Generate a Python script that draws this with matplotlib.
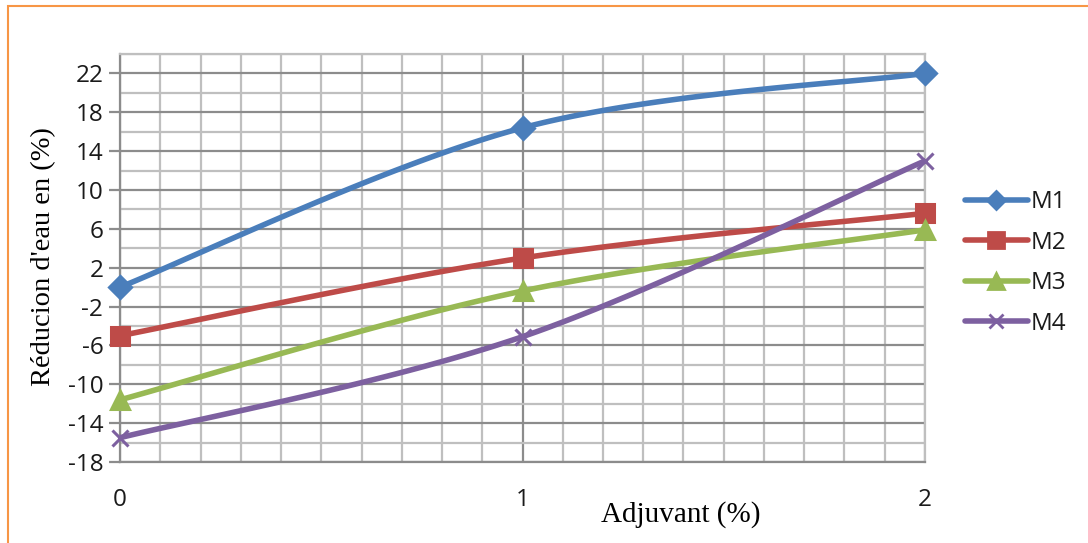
import numpy as np
import matplotlib.pyplot as plt
from matplotlib.patches import Rectangle
from matplotlib.ticker import MultipleLocator, FixedLocator

# dosage d'adjuvant (%) et reduction d'eau (%) pour chaque melange
adjuvant = [0, 1, 2]
m1 = [0.0, 16.4, 22.0]
m2 = [-5.0, 3.0, 7.6]
m3 = [-11.6, -0.4, 5.9]
m4 = [-15.5, -5.1, 13.0]

series = [('M1', m1, '#4A7EBB', 'D', 11),
          ('M2', m2, '#BE4B48', 's', 13),
          ('M3', m3, '#98B954', '^', 13),
          ('M4', m4, '#7D60A0', 'x', 12)]


def smooth(x, y, n=60):
    # catmull-rom style curve through the points (like excel "smoothed line")
    x = np.asarray(x, float)
    y = np.asarray(y, float)
    px = np.concatenate([[x[0]], x, [x[-1]]])
    py = np.concatenate([[y[0]], y, [y[-1]]])
    xs, ys = [], []
    t = np.linspace(0, 1, n)
    for i in range(1, len(px) - 2):
        p0x, p1x, p2x, p3x = px[i - 1], px[i], px[i + 1], px[i + 2]
        p0y, p1y, p2y, p3y = py[i - 1], py[i], py[i + 1], py[i + 2]
        c1x = p1x + (p2x - p0x) / 6
        c1y = p1y + (p2y - p0y) / 6
        c2x = p2x - (p3x - p1x) / 6
        c2y = p2y - (p3y - p1y) / 6
        bx = (1 - t) ** 3 * p1x + 3 * (1 - t) ** 2 * t * c1x + 3 * (1 - t) * t ** 2 * c2x + t ** 3 * p2x
        by = (1 - t) ** 3 * p1y + 3 * (1 - t) ** 2 * t * c1y + 3 * (1 - t) * t ** 2 * c2y + t ** 3 * p2y
        xs.extend(bx)
        ys.extend(by)
    return xs, ys


fig = plt.figure(figsize=(10.88, 5.43), dpi=100)
ax = fig.add_axes([120 / 1088, 1 - 462 / 543, 805 / 1088, 408 / 543])

for name, vals, col, mk, ms in series:
    sx, sy = smooth(adjuvant, vals)
    ax.plot(sx, sy, color=col, lw=4, solid_capstyle='round', zorder=3)
    ax.plot(adjuvant, vals, linestyle='none', marker=mk, color=col, ms=ms,
            mew=2.2, zorder=4, clip_on=False)
    # legend handle only
    ax.plot([], [], color=col, lw=4, marker=mk, ms=ms * 0.85, mew=2, label=name,
            solid_capstyle='round')

ax.set_xlim(0, 2)
ax.set_ylim(-18, 24)
ax.xaxis.set_major_locator(FixedLocator([0, 1, 2]))
ax.xaxis.set_minor_locator(MultipleLocator(0.1))
ax.yaxis.set_major_locator(FixedLocator(np.arange(-18, 23, 4)))
ax.yaxis.set_minor_locator(MultipleLocator(2))

ax.grid(which='minor', color='#BFBFBF', lw=1.6)
ax.grid(which='major', color='#8C8C8C', lw=1.6)
ax.set_axisbelow(True)

for side in ['top', 'right']:
    ax.spines[side].set_color('#BFBFBF')
    ax.spines[side].set_linewidth(1.6)
for side in ['left', 'bottom']:
    ax.spines[side].set_color('#8C8C8C')
    ax.spines[side].set_linewidth(1.6)

ax.tick_params(axis='y', which='major', length=8, width=1.6, color='#8C8C8C',
               labelsize=17.5, pad=4)
ax.tick_params(axis='x', which='major', length=0, labelsize=17.5, pad=19)
ax.tick_params(which='minor', length=0)

ax.set_yticklabels([str(v) for v in range(-18, 23, 4)])
for lab in ax.get_xticklabels() + ax.get_yticklabels():
    lab.set_fontfamily('Open Sans')
    lab.set_color('#1a1a1a')

fig.text(44 / 1088, 1 - 257 / 543, "Réducion d'eau en (%)", rotation=90,
         ha='center', va='center', family='Liberation Serif', fontsize=20.5)
fig.text(681 / 1088, 1 - 515 / 543, 'Adjuvant (%)', ha='center', va='center',
         family='Liberation Serif', fontsize=21)

leg = fig.legend(loc='center left', bbox_to_anchor=(943 / 1088, 1 - 263 / 543),
                 frameon=False, handlelength=2.6, labelspacing=0.68,
                 prop={'family': 'Open Sans', 'size': 17.5}, handletextpad=0.1)
for txt in leg.get_texts():
    txt.set_color('#1a1a1a')

# orange frame around the chart
fig.patches.append(Rectangle((8 / 1088, -0.1), 1.2, 1 - 5.5 / 543 + 0.1,
                             transform=fig.transFigure, fill=False,
                             edgecolor='#F79646', lw=1.5))

fig.savefig('out.png', dpi=100)
